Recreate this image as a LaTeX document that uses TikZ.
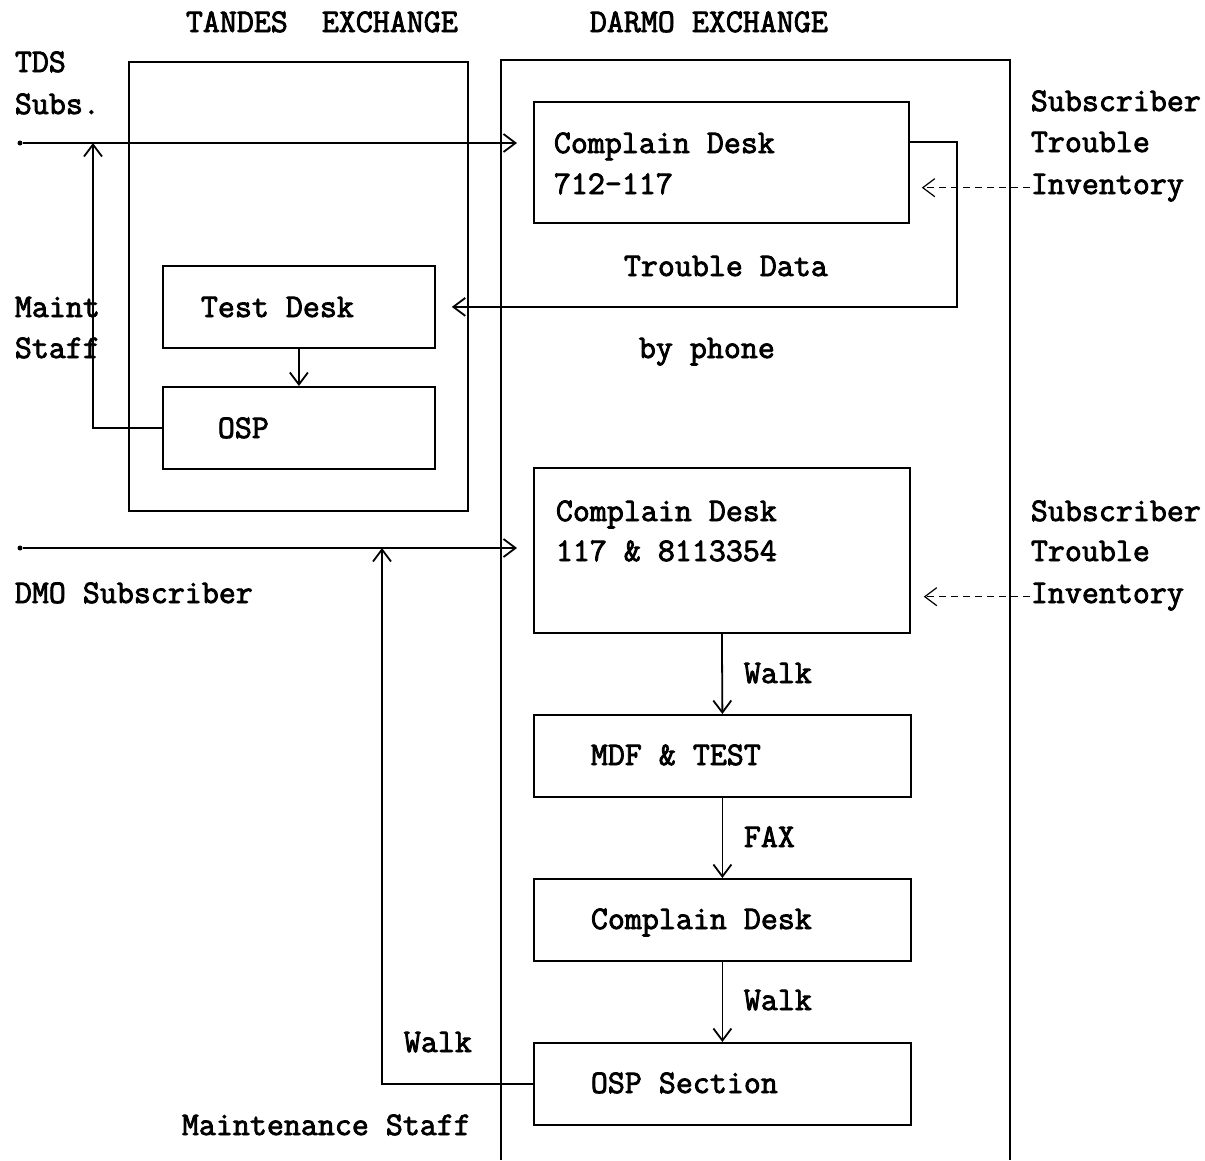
\documentclass[tikz,border=0pt]{standalone}
\usepackage{fontspec}
\newfontfamily\dotfont{Latin Modern Mono}[FakeBold=2.5]
\usetikzlibrary{arrows.meta,calc}
\begin{document}
\begin{tikzpicture}[x=1pt,y=-1pt,line width=1.8pt,
  box/.style={draw,rectangle,anchor=north west,inner sep=0pt},
  txt/.style={font=\dotfont\fontsize{33}{37}\selectfont,inner sep=0pt,anchor=base west},
  arr/.style={-{Straight Barb[length=12pt,width=18pt]}},
  darr/.style={arr,line width=1.2pt,dash pattern=on 7pt off 5pt},
  dotnode/.style={circle,fill,inner sep=0pt,minimum size=5pt}]
\useasboundingbox (0,0) rectangle (1205,1160);
% titles
\node[txt] (t1) at (185,32) {TANDES~~EXCHANGE};
\node[txt] (t2) at (589,32) {DARMO EXCHANGE};
% exchange frames
\node[box,minimum width=339pt,minimum height=449pt] (tandes) at (128,61) {};
\draw (501,1160) -- (501,60) -- (1010,60) -- (1010,1160);
% boxes
\node[box,minimum width=375pt,minimum height=121pt] (cd1) at (533,101) {};
\node[box,minimum width=272pt,minimum height=82pt] (td) at (162,265) {};
\node[box,minimum width=272pt,minimum height=82pt] (osp) at (162,386) {};
\node[box,minimum width=376pt,minimum height=165pt] (cd2) at (533,467) {};
\node[box,minimum width=377pt,minimum height=82pt] (mdf) at (533,714) {};
\node[box,minimum width=377pt,minimum height=82pt] (cd3) at (533,878) {};
\node[box,minimum width=377pt,minimum height=82pt] (ospsec) at (533,1042) {};
% box texts
\node[txt] at (553,153) {Complain Desk};
\node[txt] at (553,194) {712-117};
\node[txt] at (200,317) {Test Desk};
\node[txt] at (217,438) {OSP};
\node[txt] at (555,521) {Complain Desk};
\node[txt] at (555,561) {117 \& 8113354};
\node[txt] at (590,765) {MDF \& TEST};
\node[txt] at (590,929) {Complain Desk};
\node[txt] at (590,1093) {OSP Section};
% side labels
\node[txt] (tds) at (14,72) {TDS};
\node[txt] at (14,114) {Subs.};
\node[txt] at (14,317) {Maint};
\node[txt] at (14,358) {Staff};
\node[txt] at (14,603) {DMO Subscriber};
\node[txt] at (1030,111) {Subscriber};
\node[txt] at (1030,152) {Trouble};
\node[txt] (inv1) at (1030,194) {Inventory};
\node[txt] at (1030,521) {Subscriber};
\node[txt] at (1030,561) {Trouble};
\node[txt] (inv2) at (1030,603) {Inventory};
\node[txt] at (623,276) {Trouble Data};
\node[txt] at (638,358) {by phone};
\node[txt] at (743,683) {Walk};
\node[txt] at (743,847) {FAX};
\node[txt] at (743,1010) {Walk};
\node[txt] at (403,1052) {Walk};
\node[txt] at (181,1135) {Maintenance Staff};
% line end points
\node[dotnode] (tdsdot) at (20,143) {};
\node[dotnode] (dmodot) at (20,548) {};
\coordinate (mt) at (93,143);
\coordinate (wt) at (382,548);
\coordinate (cd1out) at (908,142);
\coordinate (trk) at (957,142);
% connectors
\draw[arr,shorten >=16pt] (tdsdot) -- (tdsdot -| cd1.west);
\draw[arr] (osp.west) -| (mt);
\draw[arr,shorten >=16pt] (cd1out) -- (trk) |- (td.east);
\draw[darr,shorten >=12pt] (inv1.west) -- (inv1.west -| cd1.east);
\draw[arr] (td.south) -- (osp.north);
\draw[arr,shorten >=16pt] (dmodot) -- (dmodot -| cd2.west);
\draw[darr,shorten >=13pt] (inv2.west) -- (inv2.west -| cd2.east);
\draw[arr] (cd2.south) -- (mdf.north);
\draw[arr] (mdf.south) -- (cd3.north);
\draw[arr] (cd3.south) -- (ospsec.north);
\draw[arr] (ospsec.west) -| (wt);
\end{tikzpicture}
\end{document}
